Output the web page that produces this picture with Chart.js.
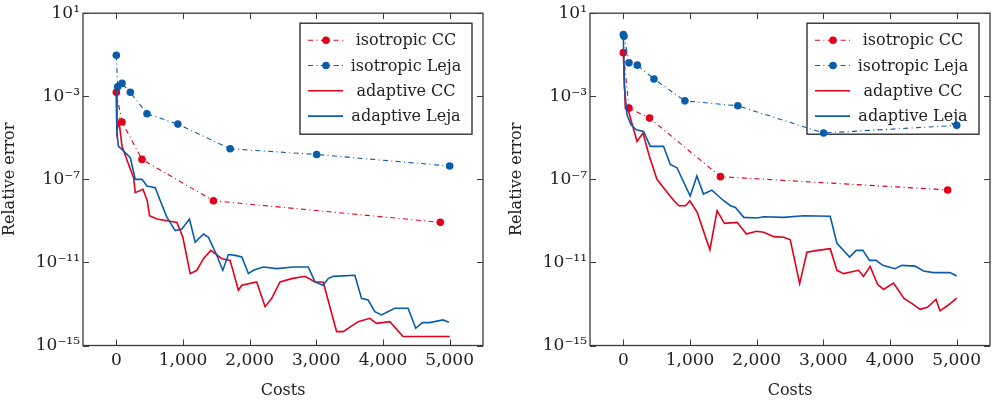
<html>
  <head>
    <script src="https://cdn.jsdelivr.net/npm/chart.js"></script>
    <style>
      body { margin: 0; background: #fff; }
      .panel { position: absolute; top: 0; width: 490px; height: 401px; }
      #left_div { left: 0; }
      #right_div { left: 507px; }
    </style>
  </head>
  <body>
    <div id="left_div" class="panel"><canvas id="leftChart"></canvas></div>
    <div id="right_div" class="panel"><canvas id="rightChart"></canvas></div>

    <script type="text/javascript">
      // axis ticks
      const xTickValues = [0, 1000, 2000, 3000, 4000, 5000];
      const yTickValues = [1e-15, 1e-11, 1e-7, 1e-3, 1e1];
      const yTickLabels = ['10⁻¹⁵', '10⁻¹¹', '10⁻⁷', '10⁻³', '10¹'];
      const seriesNames = ['isotropic CC', 'isotropic Leja', 'adaptive CC', 'adaptive Leja'];

      // left plot
      const leftIsoCCCosts = [0, 85, 385, 1457, 4860];
      const leftIsoCCError = [1.55e-3, 5.75e-5, 9.12e-7, 9.33e-9, 8.51e-10];
      const leftIsoLejaCosts = [0, 20, 85, 210, 460, 923, 1707, 3004, 5000];
      const leftIsoLejaError = [9.5e-2, 2.88e-3, 4.17e-3, 1.55e-3, 1.45e-4, 4.57e-5, 2.95e-6, 1.58e-6, 4.37e-7];
      const leftAdaCCCosts = [0, 8, 40, 85, 165, 259, 284, 400, 464, 498, 609, 909, 998, 1108, 1208, 1307, 1418, 1582, 1707,
        1831, 1882, 2106, 2231, 2331, 2455, 2630, 2829, 2979, 3103, 3304, 3403, 3627, 3802, 3903, 4102, 4301, 5000];
      const leftAdaCCError = [1.66e-3, 2.04e-5, 6.31e-5, 3.89e-6, 7.59e-7, 1.2e-7, 2.29e-8, 3.31e-8, 9.33e-9, 1.78e-9, 1.23e-9,
        8.51e-10, 1.62e-10, 2.88e-12, 4.17e-12, 1.51e-11, 3.8e-11, 1.51e-11, 1.26e-11, 4.57e-13, 7.94e-13, 1.15e-12, 7.41e-14,
        1.86e-13, 1.15e-12, 1.66e-12, 2.14e-12, 1.15e-12, 1.15e-12, 4.68e-15, 4.68e-15, 1.41e-14, 2.04e-14, 1.17e-14, 1.41e-14,
        2.69e-15, 2.69e-15];
      const leftAdaLejaCosts = [0, 8, 30, 109, 210, 284, 385, 460, 584, 659, 759, 883, 983, 1097, 1183, 1307, 1382, 1497, 1597,
        1681, 1781, 1882, 1981, 2055, 2205, 2406, 2654, 2879, 2979, 3103, 3178, 3253, 3578, 3678, 3777, 3877, 3977, 4177, 4376,
        4491, 4591, 4700, 4900, 4990];
      const leftAdaLejaError = [3.47e-3, 2.04e-5, 3.98e-6, 2.29e-6, 1.1e-6, 1e-7, 1e-7, 4.79e-8, 3.98e-8, 9.33e-9, 1.48e-9,
        3.39e-10, 4.07e-10, 1.23e-9, 9.33e-11, 2.34e-10, 1.62e-10, 2.63e-11, 4.17e-12, 2.4e-11, 2.19e-11, 1.82e-11, 2.88e-12,
        4.17e-12, 6.03e-12, 5.01e-12, 6.03e-12, 6.03e-12, 1.15e-12, 7.94e-13, 1.66e-12, 2.14e-12, 2.4e-12, 1.86e-13, 1.55e-13,
        4.27e-14, 2.95e-14, 6.17e-14, 6.17e-14, 6.76e-15, 1.26e-14, 1.26e-14, 1.7e-14, 1.32e-14];

      // right plot
      const rightIsoCCCosts = [0, 85, 394, 1457, 4865];
      const rightIsoCCError = [0.126, 2.69e-4, 8.91e-5, 1.35e-7, 3.09e-8];
      const rightIsoLejaCosts = [0, 10, 85, 210, 460, 923, 1717, 3004, 5000];
      const rightIsoLejaError = [0.95, 0.78, 4.07e-2, 3.16e-2, 6.76e-3, 6.03e-4, 3.47e-4, 1.7e-5, 3.98e-5];
      const rightAdaCCCosts = [0, 30, 79, 205, 295, 389, 504, 603, 759, 834, 933, 998, 1108, 1298, 1407, 1516, 1707, 1846,
        1995, 2106, 2256, 2406, 2504, 2645, 2754, 2915, 3103, 3204, 3304, 3528, 3603, 3702, 3813, 3903, 4052, 4211, 4326, 4451,
        4561, 4690, 4750, 4876, 5000];
      const rightAdaCCError = [0.126, 2.69e-4, 1.86e-4, 6.76e-6, 1.7e-5, 1.32e-6, 1e-7, 3.98e-8, 9.33e-9, 5.37e-9, 5.37e-9,
        9.33e-9, 2.57e-9, 4.07e-11, 3.09e-9, 7.59e-10, 8.51e-10, 2.34e-10, 3.16e-10, 2.82e-10, 1.74e-10, 1.62e-10, 1.23e-10,
        9.55e-13, 3.09e-11, 3.8e-11, 4.57e-11, 4.17e-12, 2.88e-12, 4.17e-12, 2.14e-12, 6.46e-12, 8.91e-13, 5.01e-13, 1.02e-12,
        1.86e-13, 1.07e-13, 5.5e-14, 6.92e-14, 1.66e-13, 4.68e-14, 8.91e-14, 1.91e-13];
      const rightAdaLejaCosts = [0, 15, 55, 115, 195, 304, 404, 603, 704, 804, 1003, 1103, 1202, 1328, 1505, 1606, 1681, 1807,
        2006, 2106, 2406, 2705, 3103, 3204, 3394, 3493, 3593, 3693, 3792, 3892, 4076, 4177, 4376, 4501, 4651, 4900, 5000];
      const rightAdaLejaError = [0.85, 3.16e-3, 1.29e-4, 4.27e-5, 2.45e-5, 2.04e-5, 3.89e-6, 3.89e-6, 5.25e-7, 3.63e-7,
        1.58e-8, 1.45e-7, 1.95e-8, 3.02e-8, 9.33e-9, 5.37e-9, 4.47e-9, 1.48e-9, 1.38e-9, 1.58e-9, 1.48e-9, 1.78e-9, 1.66e-9,
        8.32e-11, 1.82e-11, 3.8e-11, 3.8e-11, 1.26e-11, 1.26e-11, 7.24e-12, 5.01e-12, 7.24e-12, 6.61e-12, 3.89e-12, 3.24e-12,
        3.24e-12, 2.24e-12];

      const red = '#e3001b';
      const blue = '#0a5ca8';
      const dashDot = [5, 3.4, 1, 3.4];
      const serif = 'DejaVu Serif';

      function points(xs, ys) {
        return xs.map((x, i) => ({ x: x, y: ys[i] }));
      }

      // pgfplots like frame with inward ticks
      const framePlugin = {
        id: 'frame',
        afterDatasetsDraw(chart) {
          const ctx = chart.ctx;
          const a = chart.chartArea;
          const xs = chart.scales.x, ys = chart.scales.y;
          ctx.save();
          ctx.strokeStyle = '#3a3a3a';
          ctx.lineWidth = 1;
          xTickValues.forEach(v => {
            const px = Math.round(xs.getPixelForValue(v)) + 0.5;
            ctx.beginPath();
            ctx.moveTo(px, a.bottom); ctx.lineTo(px, a.bottom - 6);
            ctx.moveTo(px, a.top); ctx.lineTo(px, a.top + 6);
            ctx.stroke();
          });
          yTickValues.forEach(v => {
            const py = Math.round(ys.getPixelForValue(v)) + 0.5;
            ctx.beginPath();
            ctx.moveTo(a.left, py); ctx.lineTo(a.left + 6, py);
            ctx.moveTo(a.right, py); ctx.lineTo(a.right - 6, py);
            ctx.stroke();
          });
          ctx.lineWidth = 1.3;
          ctx.strokeRect(a.left, a.top, a.right - a.left, a.bottom - a.top);
          ctx.restore();
        }
      };

      // legend box in the upper right corner, drawn under the data like pgfplots
      const legendPlugin = {
        id: 'boxLegend',
        beforeDatasetsDraw(chart) {
          const ctx = chart.ctx;
          const a = chart.chartArea;
          const w = 172, h = 111;
          const left = a.right - 11 - w, top = a.top + 10;
          ctx.save();
          ctx.fillStyle = '#fff';
          ctx.fillRect(left, top, w, h);
          ctx.strokeStyle = '#222';
          ctx.lineWidth = 1.3;
          ctx.strokeRect(left, top, w, h);
          chart.data.datasets.forEach((ds, i) => {
            const y = top + 17 + i * 25.3;
            ctx.strokeStyle = ds.borderColor;
            ctx.lineWidth = ds.borderWidth;
            ctx.setLineDash(ds.borderDash || []);
            ctx.beginPath();
            ctx.moveTo(left + 8, y); ctx.lineTo(left + 43, y);
            ctx.stroke();
            ctx.setLineDash([]);
            if (ds.pointRadius > 0) {
              ctx.fillStyle = ds.borderColor;
              ctx.beginPath();
              ctx.arc(left + 26, y, ds.pointRadius, 0, Math.PI * 2);
              ctx.fill();
            }
            ctx.fillStyle = '#222';
            ctx.font = '16px "' + serif + '"';
            ctx.textAlign = 'center';
            ctx.textBaseline = 'middle';
            ctx.fillText(ds.label, left + 106, y + 1);
          });
          ctx.restore();
        }
      };

      function drawChart(id, isoCC, isoLeja, adaCC, adaLeja) {
        const ctx = document.getElementById(id);
        new Chart(ctx, {
          type: 'line',
          data: {
            datasets: [{
              label: seriesNames[0],
              data: isoCC,
              borderColor: red,
              backgroundColor: red,
              borderWidth: 1.1,
              borderDash: dashDot,
              pointRadius: 3.8,
              pointBorderWidth: 0,
              order: 3
            }, {
              label: seriesNames[1],
              data: isoLeja,
              borderColor: blue,
              backgroundColor: blue,
              borderWidth: 1.1,
              borderDash: dashDot,
              pointRadius: 3.8,
              pointBorderWidth: 0,
              order: 2
            }, {
              label: seriesNames[2],
              data: adaCC,
              borderColor: red,
              borderWidth: 1.6,
              pointRadius: 0,
              order: 1
            }, {
              label: seriesNames[3],
              data: adaLeja,
              borderColor: blue,
              borderWidth: 1.6,
              pointRadius: 0,
              order: 0
            }]
          },
          options: {
            responsive: true,
            maintainAspectRatio: false,
            animation: false,
            layout: { padding: { top: 11, right: 7, left: 0, bottom: 0 } },
            elements: { line: { tension: 0 } },
            plugins: {
              legend: { display: false },
              tooltip: { enabled: false }
            },
            scales: {
              x: {
                type: 'linear',
                min: -500,
                max: 5500,
                grid: { display: false, drawTicks: false },
                border: { display: false },
                afterBuildTicks: s => { s.ticks = xTickValues.map(v => ({ value: v })); },
                afterFit: s => { s.height = 55.5; },
                ticks: {
                  autoSkip: false,
                  maxRotation: 0,
                  padding: 5,
                  color: '#222',
                  font: { family: serif, size: 17 },
                  callback: v => v.toLocaleString('en-US')
                },
                title: {
                  display: true,
                  text: 'Costs',
                  color: '#222',
                  font: { family: serif, size: 16 },
                  padding: { top: 0, bottom: 1 }
                }
              },
              y: {
                type: 'logarithmic',
                min: 1e-15,
                max: 10,
                grid: { display: false, drawTicks: false },
                border: { display: false },
                afterBuildTicks: s => { s.ticks = yTickValues.map(v => ({ value: v })); },
                afterFit: s => { s.width = 83; },
                ticks: {
                  autoSkip: false,
                  padding: 3,
                  color: '#222',
                  font: { family: serif, size: 17 },
                  callback: v => yTickLabels[yTickValues.indexOf(v)]
                },
                title: {
                  display: true,
                  text: 'Relative error',
                  color: '#222',
                  font: { family: serif, size: 16 },
                  padding: { top: 0, bottom: 0 }
                }
              }
            }
          },
          plugins: [framePlugin, legendPlugin]
        });
      }

      drawChart('leftChart',
        points(leftIsoCCCosts, leftIsoCCError), points(leftIsoLejaCosts, leftIsoLejaError),
        points(leftAdaCCCosts, leftAdaCCError), points(leftAdaLejaCosts, leftAdaLejaError));
      drawChart('rightChart',
        points(rightIsoCCCosts, rightIsoCCError), points(rightIsoLejaCosts, rightIsoLejaError),
        points(rightAdaCCCosts, rightAdaCCError), points(rightAdaLejaCosts, rightAdaLejaError));
    </script>
  </body>
</html>
